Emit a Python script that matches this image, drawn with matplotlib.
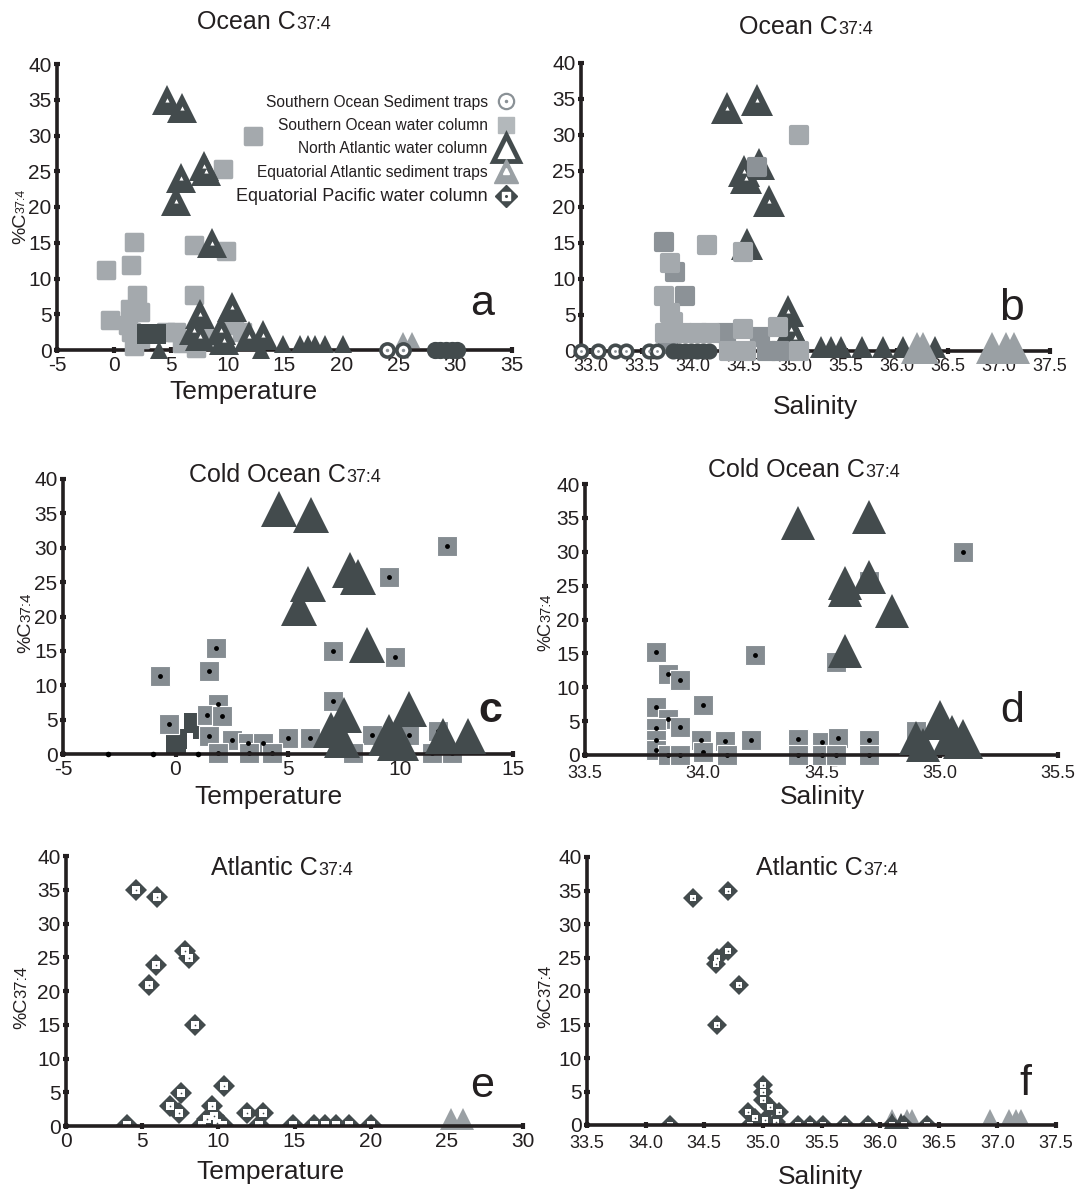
import matplotlib
matplotlib.use('Agg')
import matplotlib.pyplot as plt
from matplotlib.markers import MarkerStyle
from matplotlib.lines import Line2D
from matplotlib.legend_handler import HandlerTuple
from matplotlib.ticker import FormatStrFormatter

plt.rcParams['font.family'] = ['Liberation Sans', 'DejaVu Sans']
plt.rcParams['axes.unicode_minus'] = False

# ---------------- DATA ----------------
# panel a: all ocean, temperature
a_na_temp = [4.7, 6.0, 7.9, 8.1, 5.9, 5.5, 8.6, 10.4, 7.6, 7.0, 7.6, 9.4, 9.7, 11.9, 13.1]
a_na_c374 = [35.0, 33.9, 25.8, 25.0, 24.0, 20.8, 14.9, 6.0, 5.1, 2.8, 1.9, 2.8, 1.4, 1.9, 2.1]
a_na_small_temp = [4.0, 12.9, 14.9, 16.4, 17.1, 17.7, 18.6, 20.1]
a_na_small_c374 = [0.0, 0.0, 0.9, 0.9, 0.9, 0.9, 0.9, 0.8]
a_sq_temp = [-0.7, 1.5, 1.8, 12.2, 9.6, 7.0, 9.9, 7.0, 2.0, 1.4, 2.3, -0.3, 1.5, 2.3, 1.8,
             4.6, 5.5, 6.0, 7.9, 11.3, 10.6, 7.2, 1.2]
a_sq_c374 = [11.2, 11.9, 15.1, 29.9, 25.3, 14.7, 13.9, 7.7, 7.7, 5.8, 5.3, 4.2, 2.5, 1.5, 0.5,
             2.5, 2.5, 1.0, 1.9, 2.5, 3.5, 0.3, 3.5]
a_sqdark_temp = [2.9, 3.7]
a_sqdark_c374 = [2.3, 2.3]
a_circ_temp = [24.0, 25.4]
a_circ_c374 = [0.0, 0.0]
a_circfill_temp = [28.2, 28.7, 29.2, 29.7, 30.2]
a_circfill_c374 = [0.0, 0.0, 0.0, 0.0, 0.0]
a_ea_temp = [25.4, 26.2]
a_ea_c374 = [1.4, 1.4]

# panel b: all ocean, salinity
b_na_sal = [34.33, 34.63, 34.65, 34.5, 34.52, 34.74, 34.53, 34.93, 34.96, 35.0]
b_na_c374 = [33.8, 34.8, 26.0, 25.0, 24.0, 20.9, 14.9, 5.5, 3.0, 2.0]
b_na_small_sal = [34.9, 35.0, 35.25, 35.35, 35.45, 35.66, 35.86, 36.06, 36.37]
b_na_small_c374 = [0.5, 0.5, 0.6, 0.6, 0.6, 0.6, 0.6, 0.6, 0.6]
b_sq_sal = [33.77, 34.14, 34.49, 35.04, 33.71, 33.77, 33.8, 33.72, 33.9, 34.05, 34.17, 34.49,
            34.83, 34.35, 34.52, 35.04]
b_sq_c374 = [12.2, 14.7, 13.8, 30.0, 7.6, 5.3, 4.0, 2.5, 2.5, 2.5, 2.5, 3.0, 3.3, 0.0, 0.0, 0.0]
b_sqmid_sal = [33.71, 33.82, 33.92, 34.63, 34.32, 34.66, 34.72, 34.85, 33.75]
b_sqmid_c374 = [15.2, 11.0, 7.6, 25.5, 2.5, 2.0, 0.0, 0.0, 1.0]
b_circ_sal = [32.9, 33.07, 33.23, 33.34, 33.57, 33.65]
b_circ_c374 = [0.0, 0.0, 0.0, 0.0, 0.0, 0.0]
b_circfill_sal = [33.8, 33.86, 33.92, 33.98, 34.04, 34.1, 34.16]
b_circfill_c374 = [0.0, 0.0, 0.0, 0.0, 0.0, 0.0, 0.0]
b_ea_sal = [36.2, 36.25, 36.93, 37.07, 37.15]
b_ea_c374 = [0.4, 0.4, 0.4, 0.4, 0.4]

# panel c: cold ocean, temperature
c_na_temp = [4.58, 6.0, 7.75, 8.1, 5.9, 5.5, 8.5, 10.37, 7.5, 6.9, 7.4, 11.9, 12.98]
c_na_c374 = [35.7, 34.8, 26.8, 25.7, 24.7, 21.3, 15.8, 6.6, 5.7, 3.5, 2.1, 2.6, 2.6]
c_na_big_temp = [9.5, 9.9]
c_na_big_c374 = [2.8, 2.1]
c_sq_temp = [-0.69, 1.49, 1.8, 12.08, 9.49, 6.98, 9.77, 6.98, 1.88, 1.38, 2.08, -0.28, 1.49,
             2.49, 3.2, 3.88, 5.0, 5.98, 8.75, 10.37, 11.65, 1.88, 3.26, 4.3, 7.88, 11.38, 12.3]
c_sq_c374 = [11.3, 12.1, 15.4, 30.2, 25.8, 15.0, 14.1, 7.7, 7.3, 5.7, 5.5, 4.4, 2.6,
             2.1, 1.6, 1.6, 2.4, 2.4, 2.7, 2.7, 3.4, 0.15, 0.15, 0.15, 0.15, 0.15, 0.15]
c_sqdark_temp = [0.05, 0.0, 0.8, 1.2]
c_sqdark_c374 = [2.2, 1.6, 4.5, 3.6]
c_dot_temp = [-3.0, -1.0, 1.0]
c_dot_c374 = [0.0, 0.0, 0.0]

# panel d: cold ocean, salinity
d_sq_sal = [33.8, 33.85, 33.9, 34.0, 34.22, 35.1, 34.7, 34.56, 33.8, 33.85, 33.9, 33.8, 33.8,
            33.99, 34.09, 34.2, 34.4, 34.5, 34.57, 34.7, 34.9, 33.8, 33.85, 33.9, 34.0, 34.1,
            34.4, 34.5, 34.56, 34.7]
d_sq_c374 = [15.2, 11.9, 11.1, 7.4, 14.7, 29.9, 25.7, 13.7, 7.1, 5.3, 4.2, 4.0, 2.2,
             2.2, 2.1, 2.2, 2.3, 1.9, 2.5, 2.2, 3.5, 0.7, 0.0, 0.0, 0.5, 0.0,
             0.0, 0.0, 0.0, 0.0]
d_na_sal = [34.4, 34.7, 34.6, 34.6, 34.7, 34.8, 34.6, 34.9, 34.93]
d_na_c374 = [34.3, 35.2, 25.4, 24.3, 26.3, 21.3, 15.3, 2.5, 1.5]
d_na_big_sal = [35.0, 35.05, 35.1]
d_na_big_c374 = [5.1, 3.0, 2.3]

# panel e: Atlantic, temperature
e_na_temp = [4.59, 5.95, 7.82, 8.07, 5.89, 5.45, 8.48, 10.39, 7.55, 6.82, 7.45, 9.59, 11.86,
             12.95, 3.98, 9.25, 9.7, 9.93, 10.3, 8.9, 12.66, 14.9, 16.25, 16.98, 17.7, 18.57, 20.05]
e_na_c374 = [35.0, 34.0, 26.0, 24.9, 23.9, 20.9, 14.9, 5.9, 4.9, 2.9, 1.9, 2.9, 1.9,
             1.9, 0.2, 1.0, 1.5, 0.5, 0.2, 0.2, 0.2, 0.2, 0.2, 0.2, 0.2, 0.2, 0.2]
e_ea_temp = [25.27, 26.07]
e_ea_c374 = [1.1, 1.1]

# panel f: Atlantic, salinity
f_na_sal = [34.4, 34.7, 34.61, 34.6, 34.7, 34.8, 34.61, 35.0, 35.0, 35.0, 35.06, 35.14, 34.87,
            34.93, 35.02, 35.11, 34.89, 34.21, 35.3, 35.4, 35.51, 35.7, 35.9, 36.1, 36.2, 36.4]
f_na_c374 = [33.9, 34.9, 24.9, 24.0, 25.9, 20.9, 14.9, 6.0, 5.0, 3.7, 2.7, 2.0, 2.0,
             1.0, 0.75, 0.5, 0.0, 0.0, 0.0, 0.0, 0.0, 0.0, 0.0, 0.0, 0.0, 0.0]
f_ea_sal = [36.1, 36.23, 36.27, 36.94, 37.1, 37.16, 37.2]
f_ea_c374 = [1.2, 1.2, 1.2, 1.2, 1.2, 1.2, 1.2]
f_natri_sal = [36.1, 36.18]
f_natri_c374 = [0.6, 0.6]

legend_labels = ['Southern Ocean Sediment traps', 'Southern Ocean water column',
                 'North Atlantic water column', 'Equatorial Atlantic sediment traps',
                 'Equatorial Pacific water column']
yticks = [0, 5, 10, 15, 20, 25, 30, 35, 40]

# ---------------- STYLE ----------------
W, H = 1077, 1192
DARK = '#434b4d'
AXC = '#231f20'
SQ_LIGHT = '#a4a9ad'
SQ_MID = '#8c9297'
SQ_CD = '#858c91'
TRI_GRAY = '#9aa0a4'
LEG_GRAY = '#b3b8bb'
ROUND_SQ = MarkerStyle('s', joinstyle='round')

fig = plt.figure(figsize=(W / 100, H / 100), dpi=100)


def make_ax(x0, x1, y0, y1, xlim, xticks, fmt=None, fs=15, xpad=1.5):
    ax = fig.add_axes([x0 / W, 1 - y0 / H, (x1 - x0) / W, (y0 - y1) / H])
    ax.set_xlim(xlim)
    ax.set_ylim(0, 40)
    ax.set_xticks(xticks)
    ax.set_yticks(yticks)
    if fmt:
        ax.xaxis.set_major_formatter(FormatStrFormatter(fmt))
    for s in ['top', 'right']:
        ax.spines[s].set_visible(False)
    for s in ['left', 'bottom']:
        ax.spines[s].set_linewidth(2.6)
        ax.spines[s].set_color(AXC)
    ax.tick_params(direction='inout', length=5, width=3, color=AXC, labelcolor=AXC)
    ax.tick_params(axis='x', labelsize=fs, pad=xpad)
    ax.tick_params(axis='y', labelsize=15, pad=1.5)
    ax.patch.set_alpha(0)
    return ax


def pts(ax, x, y, marker, ms, fc, ec=None, mew=0.0, z=3, clip=False):
    ax.plot(x, y, ls='none', marker=marker, ms=ms, mfc=fc, mec=ec if ec else fc,
            mew=mew, zorder=z, clip_on=clip)


def title2(xs, yb, main, sub, fs=18, fs2=13):
    fig.text(xs / W, 1 - yb / H, main, ha='right', va='baseline', fontsize=fs, color=AXC)
    fig.text(xs / W, 1 - yb / H, sub, ha='left', va='baseline', fontsize=fs2, color=AXC)


def ylab2(xb, ys, fs=14, fs2=10):
    fig.text(xb / W, 1 - ys / H, '%C', rotation=90, rotation_mode='anchor', ha='right',
             va='baseline', fontsize=fs, color=AXC)
    fig.text(xb / W, 1 - ys / H, '37:4', rotation=90, rotation_mode='anchor', ha='left',
             va='baseline', fontsize=fs2, color=AXC)


def label(x, y, s, fs, **kw):
    fig.text(x / W, 1 - y / H, s, fontsize=fs, color=AXC, **kw)


# ---------------- PANEL a ----------------
ax = make_ax(57, 512, 350, 64, (-5, 35), range(-5, 36, 5))
pts(ax, a_sq_temp, a_sq_c374, ROUND_SQ, 12, SQ_LIGHT, mew=2.5, z=3)
pts(ax, a_sqdark_temp, a_sqdark_c374, 's', 14, DARK, z=3)
pts(ax, a_circ_temp, a_circ_c374, 'o', 9.5, 'white', DARK, mew=2.6, z=4)
pts(ax, a_circ_temp, a_circ_c374, 'o', 2.5, '#8a9196', z=4)
pts(ax, a_circfill_temp, a_circfill_c374, 'o', 10, DARK, DARK, mew=2.4, z=4)
pts(ax, a_ea_temp, a_ea_c374, '^', 12, TRI_GRAY, z=3.5)
pts(ax, a_na_temp, a_na_c374, '^', 21, DARK, z=4)
pts(ax, a_na_temp, a_na_c374, '^', 3, 'white', z=4.1)
pts(ax, a_na_small_temp, a_na_small_c374, '^', 13, DARK, z=4)

h_circ = (Line2D([], [], ls='none', marker='o', ms=11, mfc='white', mec='#8a9196', mew=1.6),
          Line2D([], [], ls='none', marker='o', ms=1.5, color='#8a9196'))
h_sq = Line2D([], [], ls='none', marker='s', ms=12, color=LEG_GRAY)
h_tri = (Line2D([], [], ls='none', marker='^', ms=19, mfc='white', mec=DARK, mew=3.5),)
h_ea = (Line2D([], [], ls='none', marker='^', ms=17, color=TRI_GRAY),
        Line2D([], [], ls='none', marker='^', ms=5, color='white'))
h_dia = (Line2D([], [], ls='none', marker='D', ms=11, color=DARK),
         Line2D([], [], ls='none', marker='s', ms=6, color='white'),
         Line2D([], [], ls='none', marker='o', ms=1.2, color=DARK))
leg = ax.legend([h_circ, h_sq, h_tri, h_ea, h_dia], legend_labels, loc='upper right',
                bbox_to_anchor=(1.025, 0.92), frameon=False, markerfirst=False,
                handlelength=1.2, handletextpad=0.6, labelspacing=0.54, borderpad=0,
                fontsize=11.2, handler_map={tuple: HandlerTuple(ndivide=1, pad=0)})
leg.get_texts()[4].set_fontsize(13)
for t in leg.get_texts():
    t.set_color(AXC)

title2(296, 29, 'Ocean C', '37:4')
ylab2(25, 213, fs=14, fs2=9)
label(243, 392, 'Temperature', 19, ha='center', va='center')
label(482, 315, 'a', 31, ha='center', va='baseline')

# ---------------- PANEL b ----------------
ax = make_ax(581, 1050, 351, 63, (32.9, 37.5), [33.0 + 0.5 * i for i in range(10)], '%.1f',
             fs=13, xpad=2.5)
pts(ax, b_na_sal, b_na_c374, '^', 23, DARK, z=3)
pts(ax, b_na_sal, b_na_c374, '^', 3, 'white', z=3.1)
pts(ax, b_na_small_sal, b_na_small_c374, '^', 16, DARK, z=3)
pts(ax, b_sq_sal, b_sq_c374, ROUND_SQ, 11, SQ_LIGHT, mew=3, z=3.5)
pts(ax, b_sqmid_sal, b_sqmid_c374, ROUND_SQ, 11, SQ_MID, mew=3, z=3.4)
pts(ax, b_ea_sal, b_ea_c374, '^', 23, TRI_GRAY, z=3.6)
pts(ax, b_circ_sal, b_circ_c374, 'o', 9, 'white', DARK, mew=2.6, z=4)
pts(ax, b_circ_sal, b_circ_c374, 'o', 2, '#8a9196', z=4)
pts(ax, b_circfill_sal, b_circfill_c374, 'o', 9, DARK, DARK, mew=2.6, z=4)

title2(838, 34, 'Ocean C', '37:4')
label(815, 407, 'Salinity', 19, ha='center', va='center')
label(1012, 320, 'b', 32, ha='center', va='baseline')

# ---------------- PANEL c ----------------
ax = make_ax(63, 513, 754, 479, (-5, 15), range(-5, 16, 5))
pts(ax, c_sqdark_temp, c_sqdark_c374, 's', 14, DARK, z=2)
pts(ax, c_sq_temp, c_sq_c374, 's', 14, SQ_CD, 'white', mew=0.8, z=2.1)
pts(ax, c_sq_temp, c_sq_c374, 'o', 3.5, 'black', z=2.2)
pts(ax, c_dot_temp, c_dot_c374, 'o', 4, 'black', z=3)
pts(ax, c_na_temp, c_na_c374, '^', 25.5, DARK, z=3)
pts(ax, c_na_big_temp, c_na_big_c374, '^', 30, DARK, z=3)

title2(346, 482, 'Cold Ocean C', '37:4')
ylab2(30, 622, fs=14, fs2=11)
label(268, 797, 'Temperature', 19, ha='center', va='center')
label(490, 722, 'c', 31, ha='center', va='baseline', fontweight='bold')

# ---------------- PANEL d ----------------
ax = make_ax(585, 1058, 755, 484, (33.5, 35.5), [33.5, 34.0, 34.5, 35.0, 35.5], '%.1f',
             fs=13, xpad=5)
pts(ax, d_sq_sal, d_sq_c374, 's', 14, SQ_CD, 'white', mew=0.8, z=2.1)
pts(ax, d_sq_sal, d_sq_c374, 'o', 3.5, 'black', z=2.2)
pts(ax, d_na_sal, d_na_c374, '^', 24.5, DARK, z=3)
pts(ax, d_na_big_sal, d_na_big_c374, '^', 29.5, DARK, z=3)

title2(865, 477, 'Cold Ocean C', '37:4')
ylab2(550, 622, fs=13, fs2=10.5)
label(822, 797, 'Salinity', 19, ha='center', va='center')
label(1012, 722, 'd', 31, ha='center', va='baseline')

# ---------------- PANEL e ----------------
ax = make_ax(66, 523, 1126, 856, (0, 30), range(0, 31, 5))
pts(ax, e_na_temp, e_na_c374, 'D', 11, DARK, z=2, clip=True)
pts(ax, e_na_temp, e_na_c374, 's', 5.5, 'white', z=2.1, clip=True)
pts(ax, e_na_temp, e_na_c374, 'o', 1.2, DARK, z=2.2, clip=True)
pts(ax, e_ea_temp, e_ea_c374, '^', 16, TRI_GRAY, z=2.3)

title2(318, 875, 'Atlantic C', '37:4')
ylab2(26, 998, fs=14, fs2=12)
label(270, 1172, 'Temperature', 19, ha='center', va='center')
label(482, 1097, 'e', 31, ha='center', va='baseline')

# ---------------- PANEL f ----------------
ax = make_ax(587, 1056, 1125, 857, (33.5, 37.5), [33.5 + 0.5 * i for i in range(9)], '%.1f',
             fs=13, xpad=5)
pts(ax, f_ea_sal, f_ea_c374, '^', 11, TRI_GRAY, z=1.9)
pts(ax, f_natri_sal, f_natri_c374, '^', 11, DARK, z=1.95)
pts(ax, f_na_sal, f_na_c374, 'D', 10, DARK, z=2, clip=True)
pts(ax, f_na_sal, f_na_c374, 's', 5, 'white', z=2.1, clip=True)
pts(ax, f_na_sal, f_na_c374, 'o', 1.2, DARK, z=2.2, clip=True)

title2(863, 875, 'Atlantic C', '37:4')
ylab2(550, 997, fs=14, fs2=12)
label(820, 1177, 'Salinity', 19, ha='center', va='center')
label(1025, 1095, 'f', 31, ha='center', va='baseline')

fig.savefig('out.png', dpi=100)
